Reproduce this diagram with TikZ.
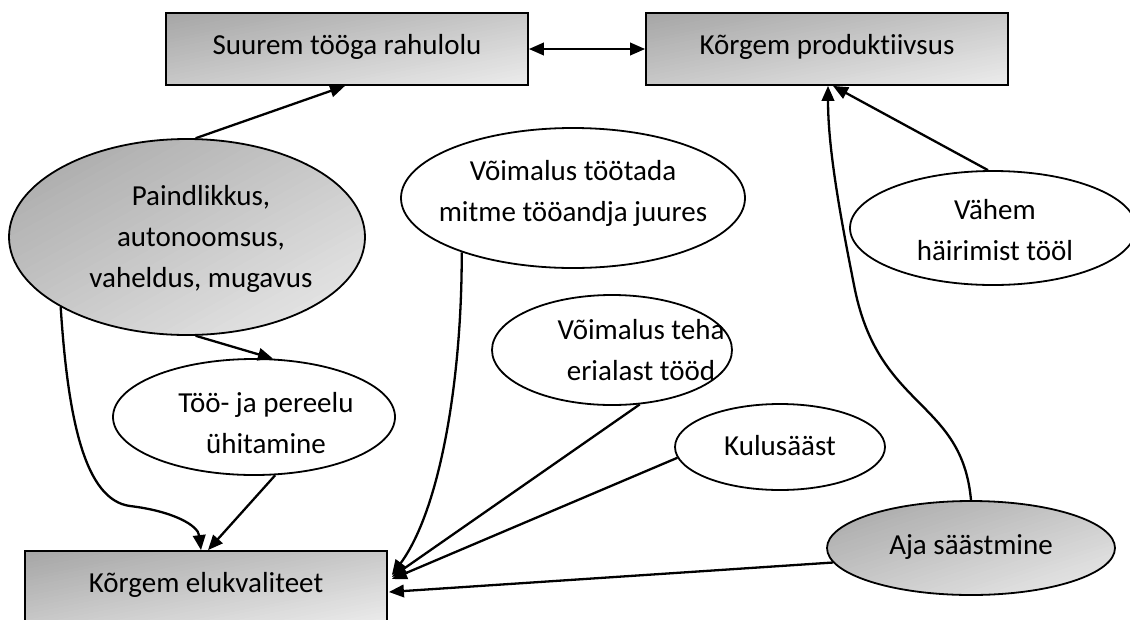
\documentclass[tikz,border=0pt]{standalone}
\usepackage{fontspec}
\setmainfont{Carlito}[Ligatures=NoCommon]
\usetikzlibrary{arrows.meta,shapes.geometric,calc}
\definecolor{shdark}{HTML}{A5A5A5}
\definecolor{shlight}{HTML}{ECECEC}
% diagonal grey fade: dark in the upper left corner, light in the lower right,
% painted as overlapping bands parallel to the shape's other diagonal
\tikzset{
  bands/.style 2 args={path picture={
    \foreach \k in {0,...,47}{
      \pgfmathsetmacro\sa{2*\k/48}
      \pgfmathsetmacro\pc{100*(\k+0.5)/48}
      \fill[shlight!\pc!shdark]
        ($(path picture bounding box.north west)+(\sa*#1,0)$) --
        ($(path picture bounding box.north west)+(2.1*#1,0)$) --
        ($(path picture bounding box.north west)+(0,2.1*#2)$) --
        ($(path picture bounding box.north west)+(0,\sa*#2)$) -- cycle;
    }}}
}
\begin{document}
\begin{tikzpicture}[x=1pt,y=-1pt,
  font=\fontsize{29}{41}\selectfont,
  box/.style={draw, line width=1.8pt, rectangle, minimum width=362pt, minimum height=72pt,
    inner sep=0pt, text height=20pt, text depth=10pt, bands={362}{72}},
  oval/.style={draw, line width=1.8pt, ellipse, inner sep=0pt, fill=white},
  greyoval/.style={draw, line width=1.8pt, ellipse, inner sep=0pt},
  lbl/.style={align=center, inner sep=0pt},
  headtri/.tip={Triangle[length=15pt,width=12.5pt]},
  conn/.style={line width=2.3pt, -{headtri}}
]
\useasboundingbox (0,0) rectangle (1130,619);

% outcome boxes
\node[box] (sat)  at (347,49)  {Suurem tööga rahulolu};
\node[box] (prod) at (827,49)  {Kõrgem produktiivsus};
\node[box] (life) at (206,587) {Kõrgem elukvaliteet};

% factors
\node[greyoval, bands={356}{196}, minimum width=356pt, minimum height=196pt] (flex) at (187,237) {};
\node[lbl] (flex-t) at (201,239) {Paindlikkus,\\autonoomsus,\\vaheldus, mugavus};

\node[oval, minimum width=344pt, minimum height=140pt] (multi) at (573,198) {};
\node[lbl] (multi-t) at (573,193) {Võimalus töötada\\mitme tööandja juures};

\node[oval, minimum width=286pt, minimum height=114pt] (less) at (993,228) {};
\node[lbl] (less-t) at (995,230) {Vähem\\häirimist tööl};

\node[oval, minimum width=240pt, minimum height=110pt] (spec) at (612,350) {};
\node[lbl] (spec-t) at (641,350) {Võimalus teha\\erialast tööd};

\node[oval, minimum width=282pt, minimum height=116pt] (fam) at (254,417) {};
\node[lbl] (fam-t) at (266,423) {Töö- ja pereelu\\ühitamine};

\node[oval, minimum width=210pt, minimum height=86pt] (cost) at (780,447) {};
\node[lbl] (cost-t) at (780,446) {Kulusääst};

\node[greyoval, bands={288}{94}, minimum width=288pt, minimum height=94pt] (time) at (971,548) {};
\node[lbl] (time-t) at (971,547) {Aja säästmine};

% connectors
\draw[line width=2.3pt, {headtri}-{headtri}] (sat.east) -- (prod.west);
\draw[conn] (flex.85) -- ($(sat.south)+(-2,0)$);
\draw[conn] (flex.-85) -- (fam.72);
\draw[conn] (flex.209) .. controls (68,420) and (85,500) .. (130,506)
             .. controls (172,511) and (198,525) .. ($(life.north)+(-5,0)$);
\draw[conn] (fam.-70) -- ($(life.north)+(2,0)$);
\draw[conn] (multi.206.6) .. controls (462,380) and (440,510) .. ($(life.east)+(4,-12)$);
\draw[conn] (spec.-63) -- ($(life.east)+(4,-10)$);
\draw[conn] (cost.186) -- ($(life.east)+(4,-8)$);
\draw[conn] (time.186) -- ($(life.east)+(1,5)$);
\draw[conn] (time.north) .. controls (962,400) and (880,410) .. (855,290)
             .. controls (841,220) and (828,150) .. ($(prod.south)+(1,0)$);
\draw[conn] (less.95) -- ($(prod.south)+(6,0)$);
\end{tikzpicture}
\end{document}
